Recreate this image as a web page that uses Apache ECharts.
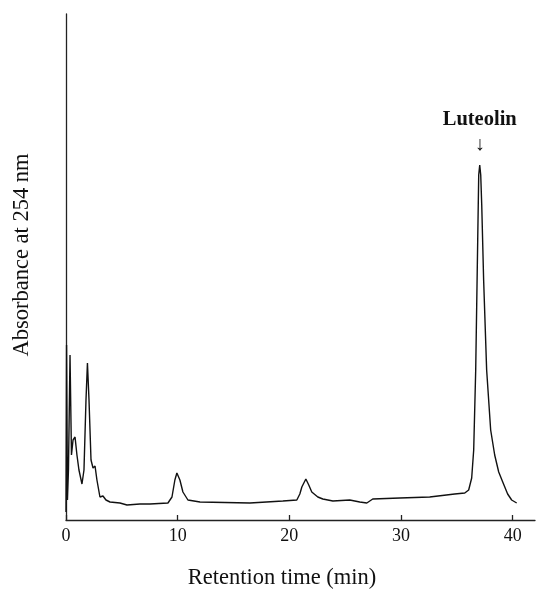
<!DOCTYPE html>
<html>
<head>
<meta charset="utf-8">
<script src="https://cdn.jsdelivr.net/npm/echarts@6/dist/echarts.min.js"></script>
<style>html,body{margin:0;padding:0;background:#fff}#c{width:537px;height:589px}</style>
</head>
<body>
<div id="c"></div>
<script>
// Retention time (min)
var times = [0, 0.05, 0.13, 0.22, 0.36, 0.49, 0.63, 0.81, 0.98, 1.16, 1.43, 1.61, 1.79, 1.92, 2.06, 2.24, 2.42, 2.6, 2.77, 3.04, 3.31, 3.58, 3.94, 4.83, 5.46, 6.62, 7.52, 9.13, 9.49, 9.75, 9.93, 10.2, 10.47, 10.92, 12.0, 16.47, 19.42, 20.67, 20.94, 21.12, 21.48, 21.74, 22.01, 22.55, 23.0, 23.9, 25.41, 26.31, 26.94, 27.47, 29.89, 32.57, 34.81, 35.71, 36.06, 36.33, 36.51, 36.69, 36.87, 36.96, 37.05, 37.14, 37.23, 37.4, 37.67, 38.03, 38.39, 38.75, 39.11, 39.55, 39.91, 40.36];
// Absorbance at 254 nm (arbitrary units)
var absorbance = [8, 175, 20, 50, 165, 65, 80, 83, 65, 50, 36, 50, 120, 157, 120, 60, 52, 54, 40, 23, 24, 20, 18, 17, 15, 16, 16, 17, 23, 40, 47, 40, 28, 20, 18, 17, 19, 20, 26, 33, 41, 35, 28, 23, 21, 19, 20, 18, 17, 21, 22, 23, 26, 27, 30, 42, 70, 150, 280, 345, 355, 345, 315, 240, 150, 90, 65, 48, 38, 26, 20, 17];
var xTicks = [0, 10, 20, 30, 40];
var peakName = 'Luteolin';
var peakTime = 37.05;
var peakValue = 355;

var font = "'Liberation Serif', 'Times New Roman', serif";
var data = times.map(function (t, i) { return [t, absorbance[i]]; });
var chart = echarts.init(document.getElementById('c'));
chart.setOption({
  animation: false,
  grid: { left: 66, right: 2, top: 14, bottom: 69 },
  xAxis: {
    type: 'value', min: 0, max: 42,
    axisLine: { show: true, lineStyle: { color: '#222', width: 1.3 } },
    axisTick: { show: true, inside: true, length: 5, customValues: xTicks, lineStyle: { color: '#222', width: 1.3 } },
    axisLabel: { customValues: xTicks, color: '#111', fontFamily: font, fontSize: 18, margin: 7 },
    splitLine: { show: false }
  },
  yAxis: {
    type: 'value', min: 0, max: 506,
    axisLine: { show: true, lineStyle: { color: '#222', width: 1.3 } },
    axisTick: { show: false }, axisLabel: { show: false }, splitLine: { show: false }
  },
  graphic: [
    { type: 'text', x: 282, y: 578, style: { text: 'Retention time (min)', fill: '#111', font: '22.5px ' + font, align: 'center', verticalAlign: 'middle' } },
    { type: 'text', x: 22, y: 255, rotation: Math.PI / 2, style: { text: 'Absorbance at 254 nm', fill: '#111', font: '22.5px ' + font, align: 'center', verticalAlign: 'middle' } }
  ],
  series: [{
    type: 'line', data: data, showSymbol: false, smooth: false,
    lineStyle: { color: '#111', width: 1.4 },
    markPoint: {
      symbol: 'circle', symbolSize: 0,
      data: [{ coord: [peakTime, peakValue] }],
      label: {
        show: true, position: 'top', distance: 8,
        formatter: '{a|' + peakName + '}\n{b|↓}',
        rich: {
          a: { fontFamily: font, fontSize: 20.5, fontWeight: 'bold', color: '#111', lineHeight: 26, align: 'center' },
          b: { fontFamily: font, fontSize: 20, fontWeight: 'bold', color: '#111', lineHeight: 24, align: 'center' }
        }
      }
    }
  }]
});
</script>
</body>
</html>
